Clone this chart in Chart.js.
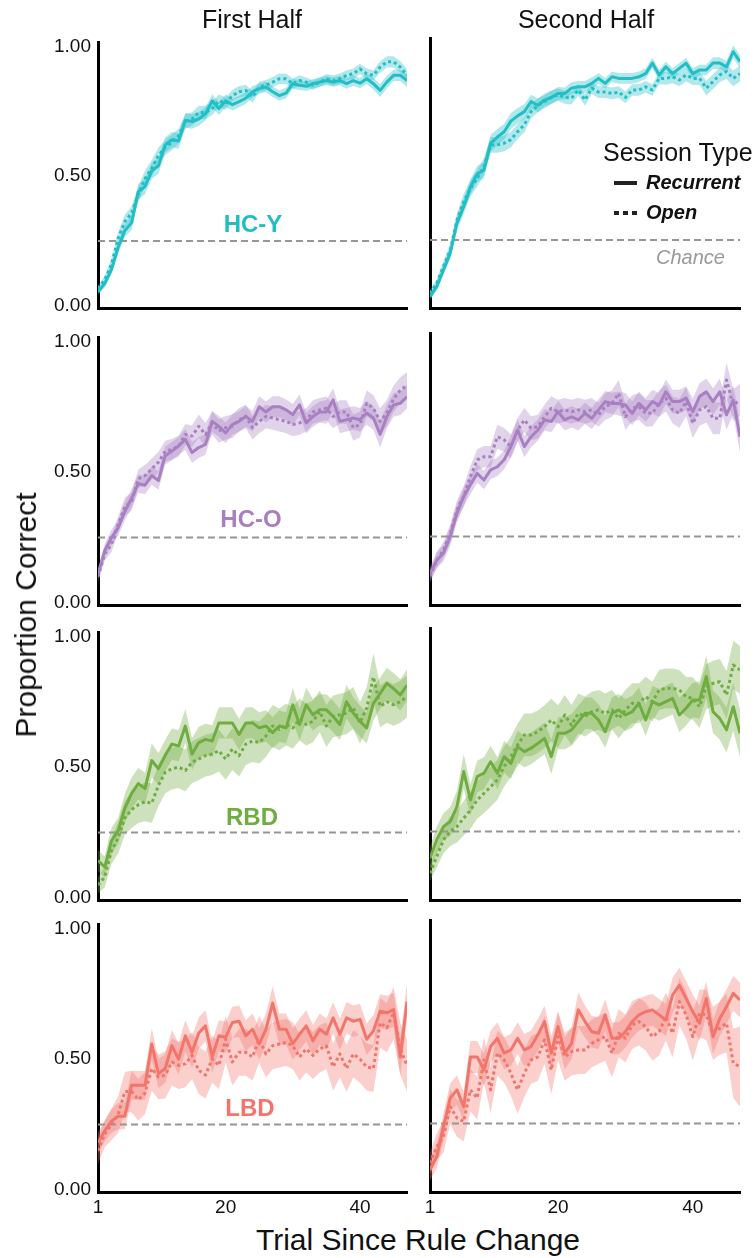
<!DOCTYPE html>
<html>
<head>
<meta charset="utf-8">
<script src="https://cdn.jsdelivr.net/npm/chart.js@4.4.0/dist/chart.umd.min.js"></script>
<style>
  body { margin: 0; background: #fff; }
  #wrap { position: relative; width: 756px; height: 1258px; overflow: hidden;
          font-family: "Liberation Sans", Arial, sans-serif; color: #111; }
  #wrap canvas { position: absolute; }
  .t { position: absolute; line-height: 1; white-space: nowrap; }
</style>
</head>
<body>
<div id="wrap"></div>
<script>
// ----- data -----
const trials = [1,2,3,4,5,6,7,8,9,10,11,12,13,14,15,16,17,18,19,20,21,22,23,24,25,26,27,28,29,30,
                31,32,33,34,35,36,37,38,39,40,41,42,43,44,45,46,47];
const xTicks = [1, 20, 40];
const yTicks = [0, 0.5, 1];
const CHANCE = 0.25;
const halves = ["First Half", "Second Half"];
const groups = ["HC-Y", "HC-O", "RBD", "LBD"];
const sessionTypes = ["Recurrent", "Open"];

// HC-Y
const hcyFirstRec = [0.054,0.086,0.14,0.225,0.29,0.32,0.44,0.46,0.52,0.54,
  0.62,0.64,0.635,0.715,0.71,0.72,0.74,0.79,0.76,0.79,
  0.775,0.787,0.80,0.825,0.837,0.843,0.825,0.81,0.82,0.856,
  0.85,0.846,0.856,0.862,0.868,0.862,0.868,0.856,0.868,0.858,
  0.875,0.856,0.83,0.862,0.888,0.888,0.868];
const hcyFirstOpen = [0.067,0.10,0.16,0.26,0.325,0.357,0.43,0.49,0.53,0.58,
  0.61,0.63,0.655,0.71,0.72,0.745,0.745,0.76,0.79,0.78,
  0.81,0.825,0.83,0.805,0.843,0.85,0.862,0.875,0.875,0.856,
  0.868,0.862,0.85,0.862,0.875,0.868,0.875,0.888,0.894,0.913,
  0.894,0.888,0.92,0.94,0.94,0.92,0.888];
const hcySecondRec = [0.035,0.073,0.136,0.2,0.313,0.376,0.45,0.50,0.515,0.616,
  0.64,0.66,0.70,0.72,0.736,0.774,0.76,0.78,0.79,0.805,
  0.805,0.825,0.83,0.83,0.843,0.862,0.843,0.868,0.862,0.862,
  0.862,0.868,0.88,0.92,0.875,0.906,0.88,0.90,0.92,0.88,
  0.894,0.894,0.92,0.92,0.906,0.963,0.925];
const hcySecondOpen = [0.048,0.086,0.15,0.21,0.325,0.395,0.445,0.483,0.528,0.61,
  0.61,0.616,0.63,0.66,0.686,0.736,0.76,0.774,0.79,0.80,
  0.79,0.787,0.818,0.78,0.825,0.81,0.81,0.805,0.81,0.79,
  0.818,0.818,0.83,0.818,0.862,0.862,0.868,0.856,0.875,0.862,
  0.862,0.825,0.85,0.875,0.888,0.862,0.88];
const hcyFirstRecSe = [0.012,0.015,0.018,0.022,0.025,0.028,0.03,0.03,0.03,0.032,
  0.03,0.03,0.03,0.028,0.028,0.026,0.026,0.025,0.025,0.024,
  0.022,0.022,0.022,0.022,0.02,0.02,0.02,0.02,0.02,0.02,
  0.018,0.018,0.018,0.018,0.018,0.018,0.018,0.02,0.02,0.02,
  0.02,0.022,0.025,0.025,0.022,0.022,0.025];
const hcyFirstOpenSe = [0.012,0.015,0.02,0.024,0.026,0.028,0.03,0.032,0.032,0.03,
  0.03,0.03,0.028,0.028,0.026,0.026,0.026,0.025,0.024,0.024,
  0.022,0.022,0.022,0.022,0.02,0.02,0.02,0.02,0.02,0.02,
  0.02,0.018,0.018,0.018,0.018,0.02,0.02,0.02,0.02,0.02,
  0.02,0.02,0.022,0.022,0.022,0.022,0.025];
const hcySecondRecSe = [0.012,0.015,0.018,0.022,0.026,0.028,0.03,0.03,0.032,0.032,
  0.03,0.03,0.03,0.03,0.028,0.026,0.026,0.025,0.025,0.024,
  0.022,0.022,0.022,0.022,0.022,0.02,0.02,0.02,0.02,0.02,
  0.02,0.02,0.02,0.02,0.02,0.02,0.02,0.02,0.02,0.02,
  0.02,0.02,0.022,0.022,0.022,0.025,0.025];
const hcySecondOpenSe = [0.012,0.015,0.02,0.024,0.026,0.03,0.03,0.032,0.032,0.03,
  0.03,0.03,0.03,0.028,0.028,0.026,0.026,0.025,0.025,0.024,
  0.024,0.024,0.022,0.022,0.022,0.022,0.022,0.022,0.022,0.022,
  0.022,0.022,0.022,0.022,0.022,0.024,0.024,0.024,0.025,0.025,
  0.025,0.028,0.028,0.028,0.028,0.03,0.03];

// HC-O
const hcoFirstRec = [0.11,0.2,0.25,0.287,0.35,0.40,0.456,0.45,0.487,0.468,
  0.563,0.58,0.60,0.625,0.575,0.594,0.606,0.694,0.675,0.65,
  0.682,0.694,0.713,0.694,0.75,0.73,0.75,0.75,0.738,0.72,
  0.757,0.688,0.713,0.73,0.73,0.776,0.694,0.70,0.707,0.70,
  0.726,0.707,0.644,0.713,0.757,0.763,0.788];
const hcoFirstOpen = [0.10,0.187,0.224,0.30,0.368,0.387,0.475,0.487,0.512,0.538,
  0.58,0.587,0.60,0.644,0.638,0.675,0.644,0.688,0.657,0.67,
  0.675,0.70,0.713,0.67,0.694,0.713,0.707,0.70,0.694,0.682,
  0.688,0.70,0.73,0.738,0.744,0.713,0.73,0.73,0.67,0.682,
  0.763,0.744,0.694,0.726,0.78,0.813,0.832];
const hcoSecondRec = [0.11,0.16,0.187,0.25,0.337,0.40,0.444,0.487,0.462,0.50,
  0.512,0.538,0.588,0.65,0.588,0.625,0.65,0.688,0.682,0.719,
  0.688,0.70,0.688,0.713,0.694,0.726,0.757,0.75,0.75,0.744,
  0.713,0.75,0.726,0.757,0.744,0.794,0.757,0.757,0.77,0.719,
  0.776,0.794,0.757,0.794,0.707,0.763,0.625];
const hcoSecondOpen = [0.10,0.16,0.20,0.26,0.35,0.40,0.475,0.538,0.55,0.55,
  0.625,0.613,0.588,0.65,0.688,0.657,0.663,0.70,0.732,0.719,
  0.726,0.719,0.726,0.719,0.726,0.707,0.738,0.75,0.788,0.70,
  0.732,0.738,0.713,0.713,0.75,0.77,0.726,0.713,0.757,0.675,
  0.726,0.738,0.694,0.694,0.838,0.744,0.763];
const hcoFirstRecSe = [0.02,0.025,0.03,0.03,0.035,0.035,0.035,0.035,0.035,0.035,
  0.035,0.035,0.035,0.04,0.04,0.04,0.04,0.04,0.04,0.04,
  0.04,0.04,0.04,0.04,0.04,0.04,0.04,0.04,0.04,0.04,
  0.04,0.04,0.04,0.04,0.045,0.045,0.045,0.045,0.045,0.045,
  0.045,0.045,0.05,0.045,0.045,0.045,0.045];
const hcoFirstOpenSe = [0.02,0.025,0.03,0.03,0.035,0.035,0.035,0.04,0.04,0.04,
  0.04,0.04,0.04,0.04,0.04,0.045,0.045,0.045,0.045,0.045,
  0.045,0.045,0.045,0.045,0.045,0.045,0.045,0.045,0.045,0.045,
  0.045,0.045,0.045,0.045,0.045,0.045,0.045,0.045,0.05,0.05,
  0.05,0.05,0.05,0.05,0.05,0.05,0.05];
const hcoSecondRecSe = [0.025,0.03,0.03,0.035,0.035,0.035,0.035,0.035,0.035,0.035,
  0.035,0.035,0.04,0.04,0.04,0.04,0.04,0.04,0.04,0.04,
  0.04,0.04,0.04,0.04,0.04,0.04,0.04,0.04,0.045,0.045,
  0.045,0.045,0.045,0.045,0.045,0.045,0.045,0.045,0.045,0.05,
  0.05,0.05,0.05,0.05,0.055,0.055,0.06];
const hcoSecondOpenSe = [0.025,0.03,0.03,0.035,0.035,0.04,0.04,0.04,0.04,0.04,
  0.045,0.045,0.045,0.045,0.045,0.045,0.045,0.045,0.045,0.045,
  0.045,0.045,0.045,0.045,0.045,0.045,0.05,0.05,0.05,0.05,
  0.05,0.05,0.05,0.05,0.05,0.05,0.05,0.055,0.055,0.055,
  0.06,0.06,0.06,0.06,0.065,0.06,0.06];

// RBD
const rbdFirstRec = [0.143,0.118,0.218,0.256,0.343,0.40,0.437,0.418,0.525,0.494,
  0.544,0.588,0.581,0.657,0.55,0.594,0.606,0.60,0.669,0.669,
  0.669,0.625,0.669,0.669,0.65,0.657,0.632,0.657,0.65,0.738,
  0.663,0.738,0.70,0.719,0.719,0.694,0.663,0.75,0.707,0.675,
  0.65,0.744,0.782,0.82,0.80,0.776,0.813];
const rbdFirstOpen = [0.049,0.08,0.18,0.23,0.306,0.337,0.356,0.368,0.362,0.43,
  0.48,0.494,0.50,0.487,0.519,0.531,0.544,0.55,0.563,0.531,
  0.569,0.544,0.588,0.60,0.594,0.619,0.657,0.644,0.663,0.65,
  0.682,0.663,0.675,0.713,0.657,0.694,0.70,0.707,0.726,0.669,
  0.726,0.845,0.732,0.75,0.738,0.75,0.77];
const rbdSecondRec = [0.149,0.218,0.268,0.287,0.343,0.475,0.368,0.456,0.469,0.512,
  0.469,0.531,0.506,0.569,0.55,0.563,0.581,0.60,0.531,0.619,
  0.619,0.632,0.663,0.694,0.694,0.669,0.625,0.694,0.707,0.688,
  0.70,0.732,0.669,0.738,0.726,0.738,0.75,0.688,0.713,0.744,
  0.744,0.832,0.70,0.675,0.632,0.719,0.619];
const rbdSecondOpen = [0.093,0.155,0.218,0.25,0.268,0.30,0.33,0.368,0.393,0.418,
  0.444,0.494,0.531,0.575,0.613,0.613,0.625,0.644,0.669,0.644,
  0.688,0.65,0.694,0.682,0.70,0.707,0.694,0.707,0.675,0.707,
  0.732,0.732,0.757,0.738,0.782,0.788,0.788,0.782,0.757,0.75,
  0.719,0.794,0.807,0.813,0.763,0.876,0.857];
const rbdFirstRecSe = [0.04,0.04,0.05,0.05,0.055,0.06,0.06,0.06,0.065,0.06,
  0.06,0.06,0.06,0.065,0.06,0.06,0.06,0.06,0.06,0.06,
  0.06,0.06,0.06,0.06,0.06,0.06,0.06,0.06,0.06,0.065,
  0.06,0.065,0.06,0.06,0.06,0.06,0.06,0.065,0.06,0.06,
  0.06,0.065,0.06,0.06,0.06,0.06,0.06];
const rbdFirstOpenSe = [0.03,0.04,0.05,0.06,0.065,0.07,0.07,0.075,0.075,0.08,
  0.08,0.08,0.08,0.08,0.08,0.08,0.08,0.08,0.08,0.08,
  0.08,0.08,0.08,0.08,0.08,0.08,0.08,0.08,0.08,0.08,
  0.08,0.08,0.08,0.08,0.08,0.08,0.08,0.08,0.08,0.08,
  0.08,0.09,0.08,0.08,0.08,0.08,0.08];
const rbdSecondRecSe = [0.04,0.05,0.05,0.055,0.06,0.065,0.06,0.06,0.06,0.06,
  0.06,0.06,0.06,0.06,0.06,0.06,0.06,0.06,0.065,0.06,
  0.06,0.06,0.06,0.06,0.06,0.06,0.06,0.06,0.06,0.06,
  0.06,0.06,0.06,0.06,0.06,0.06,0.06,0.065,0.065,0.065,
  0.07,0.08,0.08,0.08,0.085,0.09,0.09];
const rbdSecondOpenSe = [0.03,0.04,0.05,0.055,0.06,0.065,0.07,0.07,0.075,0.075,
  0.075,0.075,0.075,0.08,0.08,0.08,0.08,0.08,0.08,0.08,
  0.075,0.075,0.075,0.075,0.075,0.075,0.075,0.075,0.075,0.075,
  0.075,0.075,0.075,0.075,0.075,0.075,0.075,0.075,0.075,0.08,
  0.08,0.085,0.085,0.085,0.09,0.09,0.09];

// LBD
const lbdFirstRec = [0.18,0.226,0.263,0.282,0.282,0.40,0.40,0.40,0.558,0.445,
  0.464,0.551,0.50,0.589,0.526,0.60,0.627,0.508,0.589,0.583,
  0.64,0.645,0.589,0.614,0.558,0.614,0.714,0.614,0.614,0.558,
  0.595,0.627,0.57,0.614,0.595,0.658,0.595,0.658,0.645,0.652,
  0.576,0.608,0.683,0.677,0.689,0.508,0.72];
const lbdFirstOpen = [0.15,0.213,0.25,0.288,0.376,0.376,0.345,0.37,0.464,0.432,
  0.439,0.489,0.476,0.482,0.514,0.457,0.439,0.50,0.476,0.576,
  0.489,0.526,0.526,0.508,0.576,0.52,0.551,0.558,0.564,0.551,
  0.508,0.539,0.514,0.539,0.551,0.47,0.52,0.464,0.52,0.50,
  0.47,0.464,0.639,0.62,0.677,0.539,0.476];
const lbdSecondRec = [0.075,0.125,0.238,0.345,0.376,0.313,0.50,0.50,0.451,0.539,
  0.57,0.514,0.526,0.57,0.526,0.539,0.583,0.633,0.514,0.614,
  0.514,0.551,0.677,0.633,0.595,0.589,0.658,0.57,0.57,0.595,
  0.633,0.658,0.67,0.677,0.658,0.639,0.733,0.77,0.72,0.67,
  0.627,0.72,0.576,0.645,0.689,0.739,0.714];
const lbdSecondOpen = [0.10,0.163,0.20,0.313,0.27,0.257,0.376,0.345,0.489,0.376,
  0.514,0.489,0.439,0.376,0.439,0.489,0.50,0.564,0.451,0.576,
  0.50,0.52,0.526,0.526,0.551,0.564,0.576,0.514,0.589,0.57,
  0.62,0.633,0.614,0.576,0.595,0.652,0.589,0.708,0.658,0.576,
  0.664,0.658,0.589,0.608,0.627,0.476,0.464];
const lbdFirstRecSe = [0.04,0.04,0.045,0.05,0.05,0.055,0.055,0.055,0.06,0.055,
  0.055,0.06,0.06,0.06,0.06,0.06,0.06,0.06,0.06,0.06,
  0.06,0.06,0.06,0.06,0.06,0.06,0.065,0.06,0.06,0.06,
  0.06,0.06,0.06,0.06,0.06,0.06,0.06,0.06,0.06,0.06,
  0.06,0.06,0.065,0.065,0.065,0.07,0.07];
const lbdFirstOpenSe = [0.05,0.05,0.06,0.07,0.075,0.08,0.08,0.08,0.085,0.085,
  0.09,0.09,0.09,0.09,0.09,0.09,0.09,0.09,0.09,0.09,
  0.09,0.09,0.09,0.09,0.09,0.09,0.09,0.09,0.09,0.09,
  0.09,0.09,0.09,0.09,0.09,0.09,0.09,0.09,0.09,0.09,
  0.09,0.09,0.095,0.095,0.1,0.1,0.1];
const lbdSecondRecSe = [0.04,0.045,0.05,0.055,0.055,0.055,0.06,0.06,0.06,0.06,
  0.06,0.06,0.06,0.06,0.06,0.06,0.06,0.06,0.065,0.06,
  0.06,0.06,0.065,0.06,0.06,0.06,0.06,0.06,0.06,0.06,
  0.06,0.06,0.06,0.06,0.06,0.06,0.065,0.065,0.065,0.065,
  0.065,0.065,0.065,0.065,0.065,0.065,0.065];
const lbdSecondOpenSe = [0.04,0.05,0.06,0.065,0.07,0.075,0.08,0.08,0.085,0.085,
  0.085,0.085,0.085,0.09,0.09,0.09,0.09,0.09,0.09,0.09,
  0.09,0.09,0.09,0.09,0.09,0.09,0.09,0.09,0.09,0.09,
  0.09,0.09,0.09,0.09,0.09,0.09,0.09,0.09,0.09,0.09,
  0.09,0.095,0.1,0.1,0.11,0.13,0.15];

const groupColors = ["#21BEC6", "#A880C2", "#70AD40", "#F2756C"];

const panels = [
  [[hcyFirstRec, hcyFirstRecSe, hcyFirstOpen, hcyFirstOpenSe], [hcySecondRec, hcySecondRecSe, hcySecondOpen, hcySecondOpenSe]],
  [[hcoFirstRec, hcoFirstRecSe, hcoFirstOpen, hcoFirstOpenSe], [hcoSecondRec, hcoSecondRecSe, hcoSecondOpen, hcoSecondOpenSe]],
  [[rbdFirstRec, rbdFirstRecSe, rbdFirstOpen, rbdFirstOpenSe], [rbdSecondRec, rbdSecondRecSe, rbdSecondOpen, rbdSecondOpenSe]],
  [[lbdFirstRec, lbdFirstRecSe, lbdFirstOpen, lbdFirstOpenSe], [lbdSecondRec, lbdSecondRecSe, lbdSecondOpen, lbdSecondOpenSe]]
];

// ----- layout -----
const wrap = document.getElementById("wrap");
const rowTop = [38, 333, 628, 920];
const rowH = [270, 272, 272, 272];
const cols = [
  { x: 0, w: 420, left: 98, right: 407 },
  { x: 420, w: 336, left: 430, right: 740 }
];
const PAD_TOP = 14, XAX_H = 30;
const FONT = '"Liberation Sans", Arial, sans-serif';

function rgba(hex, a){
  const n = parseInt(hex.slice(1), 16);
  return `rgba(${n >> 16},${(n >> 8) & 255},${n & 255},${a})`;
}
function pts(vals){ return vals.map((v,i)=>({x: trials[i], y: v})); }
function edge(vals, se, s){ return vals.map((v,i)=>({x: trials[i], y: v + s*se[i]})); }

function text(str, css){
  const d = document.createElement("div");
  d.className = "t";
  d.textContent = str;
  Object.assign(d.style, css);
  wrap.appendChild(d);
  return d;
}

function makePanel(r, c){
  const col = cols[c];
  const [rec, recSe, open, openSe] = panels[r][c];
  const color = groupColors[r];
  const band = rgba(color, 0.35);
  const cv = document.createElement("canvas");
  cv.width = col.w;
  cv.height = PAD_TOP + rowH[r] + XAX_H;
  cv.style.left = col.x + "px";
  cv.style.top = (rowTop[r] - PAD_TOP) + "px";
  wrap.appendChild(cv);

  const bandSet = (data, fill) => ({ data, fill, backgroundColor: band, borderColor: "transparent",
    borderWidth: 0, pointRadius: 0, order: 2 });

  new Chart(cv, {
    type: "line",
    data: {
      datasets: [
        { data: pts(rec), borderColor: color, borderWidth: 3, pointRadius: 0, fill: false, order: 0 },
        { data: pts(open), borderColor: color, borderWidth: 3, borderDash: [3,3], borderCapStyle: "butt",
          pointRadius: 0, fill: false, order: 0 },
        { data: [{x: trials[0], y: CHANCE}, {x: trials[trials.length-1], y: CHANCE}],
          borderColor: "#969696", borderWidth: 2, borderDash: [7,4], pointRadius: 0, fill: false, order: 1 },
        bandSet(edge(rec, recSe, 1), "+1"),
        bandSet(edge(rec, recSe, -1), false),
        bandSet(edge(open, openSe, 1), "+1"),
        bandSet(edge(open, openSe, -1), false)
      ]
    },
    options: {
      responsive: false, animation: false, events: [],
      layout: { padding: { top: PAD_TOP, left: 0, bottom: 0, right: col.x + col.w - col.right } },
      plugins: { legend: { display: false }, tooltip: { enabled: false } },
      elements: { line: { tension: 0, borderJoinStyle: "round" } },
      scales: {
        x: {
          type: "linear", min: trials[0], max: trials[trials.length-1],
          grid: { display: false, drawTicks: false },
          border: { display: true, color: "#000", width: 3 },
          afterBuildTicks: s => { s.ticks = xTicks.map(v => ({ value: v })); },
          afterFit: s => { s.height = XAX_H; },
          ticks: { display: r === 3, padding: 4, color: "#111", font: { family: FONT, size: 19 } }
        },
        y: {
          min: -0.008, max: 1.015,
          grid: { display: false, drawTicks: false },
          border: { display: true, color: "#000", width: 3 },
          afterBuildTicks: s => { s.ticks = yTicks.map(v => ({ value: v })); },
          afterFit: s => { s.width = col.left - col.x; },
          ticks: { display: c === 0, padding: 7, color: "#111", font: { family: FONT, size: 19 },
                   callback: v => v.toFixed(2) }
        }
      }
    }
  });
}

for (let r = 0; r < 4; r++) for (let c = 0; c < 2; c++) makePanel(r, c);

// ----- texts -----
text(halves[0], { left: "252px", top: "7px", fontSize: "25px", transform: "translateX(-50%)" });
text(halves[1], { left: "586px", top: "7px", fontSize: "25px", transform: "translateX(-50%)" });

const labelPos = [[253, 224], [251, 519], [252, 817], [250, 1108]];
groups.forEach((g, i) => {
  text(g, { left: labelPos[i][0] + "px", top: (labelPos[i][1] - 12) + "px", fontSize: "24px",
            fontWeight: "bold", color: groupColors[i], transform: "translateX(-50%)" });
});

text("Session Type", { left: "603px", top: "140px", fontSize: "25px" });
text(sessionTypes[0], { left: "646px", top: "172px", fontSize: "20px", fontWeight: "bold", fontStyle: "italic" });
text(sessionTypes[1], { left: "646px", top: "202px", fontSize: "20px", fontWeight: "bold", fontStyle: "italic" });
text("Chance", { left: "656px", top: "247px", fontSize: "20px", fontStyle: "italic", color: "#9a9a9a" });

const key1 = document.createElement("div");
Object.assign(key1.style, { position: "absolute", left: "614px", top: "181px", width: "23px", height: "4px", background: "#222" });
wrap.appendChild(key1);
const key2 = document.createElement("div");
Object.assign(key2.style, { position: "absolute", left: "614px", top: "211px", width: "23px", height: "4px",
  background: "repeating-linear-gradient(to right, #222 0 5px, transparent 5px 9px)" });
wrap.appendChild(key2);

text("Trial Since Rule Change", { left: "418px", top: "1225px", fontSize: "30px", transform: "translateX(-50%)" });
text("Proportion Correct", { left: "26px", top: "615px", fontSize: "30px", transform: "translate(-50%,-50%) rotate(-90deg)" });
</script>
</body>
</html>
